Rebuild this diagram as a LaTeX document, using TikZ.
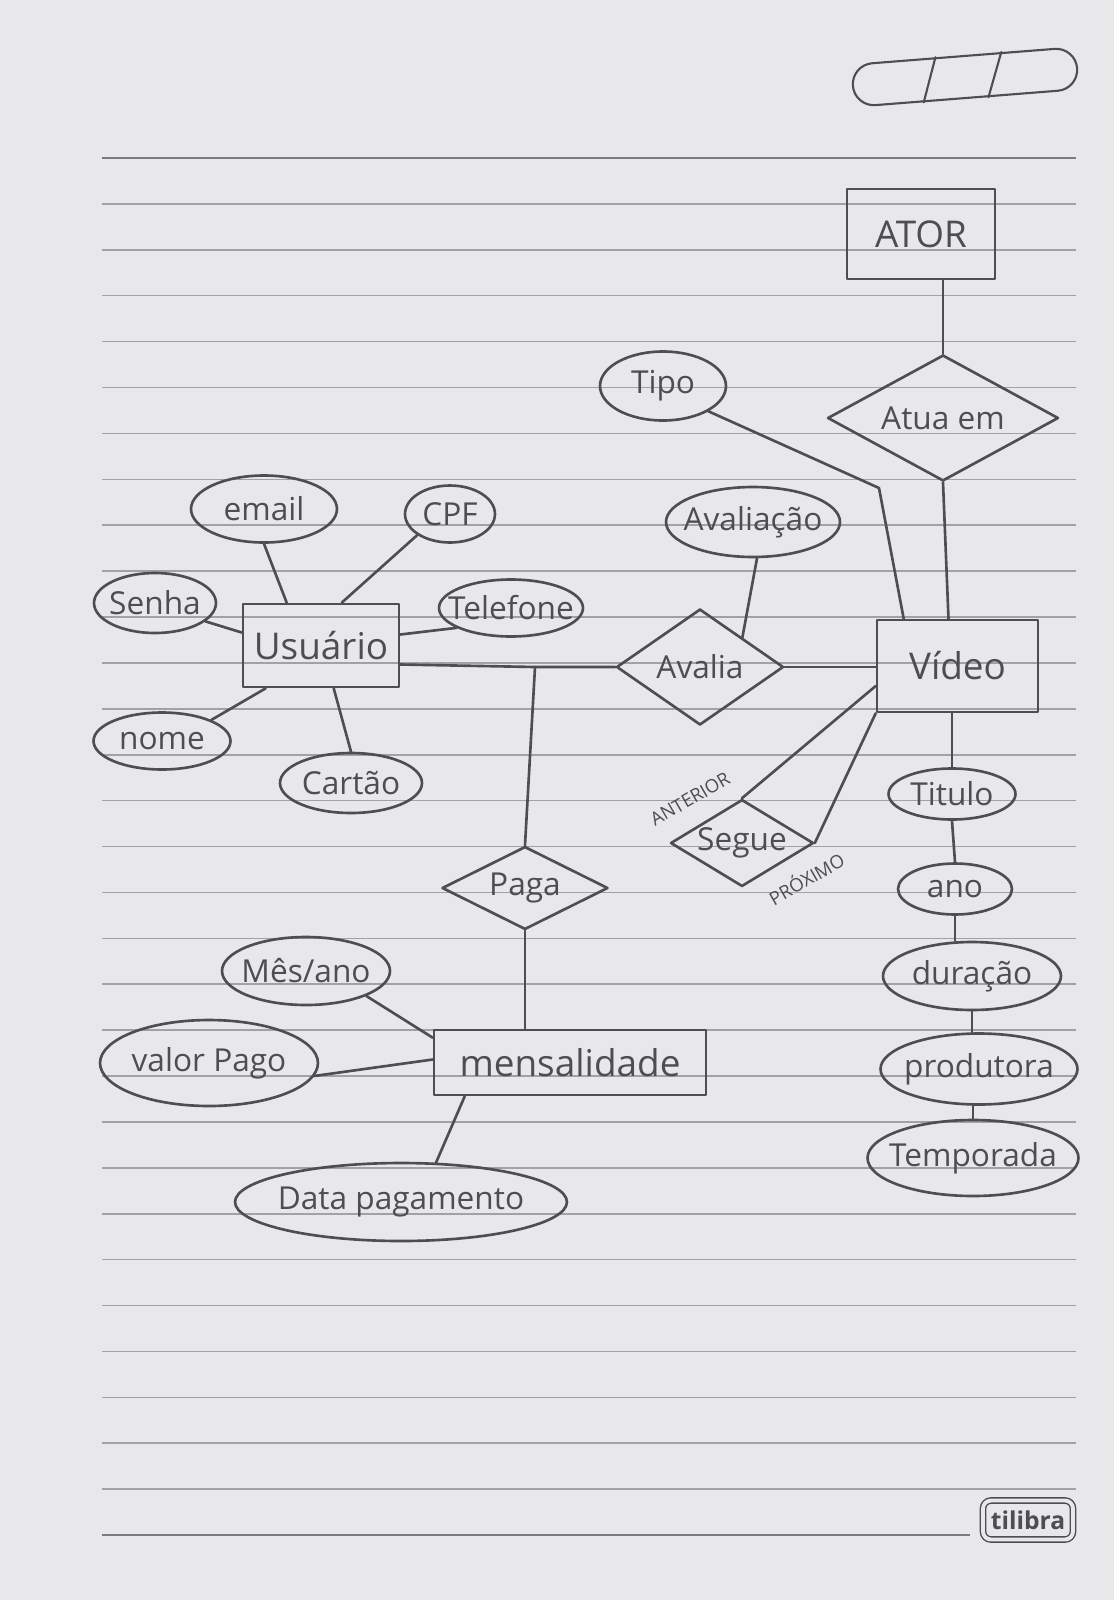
\documentclass[tikz,border=0pt]{standalone}
\usepackage{fontspec}
\setmainfont{Open Sans}
\usetikzlibrary{calc, positioning, shapes.geometric, backgrounds}

\definecolor{pencilgray}{HTML}{4E4E50}
\definecolor{linegray}{HTML}{A2A2A4}
\definecolor{headgray}{HTML}{7A7A7C}
\definecolor{papergray}{HTML}{E8E8EA}

\tikzset{
    pencil/.style={draw=pencilgray, line width=1.5pt, line cap=round, line join=round},
    entity/.style={pencil, rectangle, inner sep=0pt, text=pencilgray, font=\fontsize{21}{24}\selectfont},
    attr/.style={pencil, ellipse, inner xsep=-0.6cm, inner ysep=0pt, text=pencilgray, font=\fontsize{18}{21}\selectfont},
    rel/.style={pencil, diamond, inner xsep=-0.3cm, inner ysep=0pt, text=pencilgray, font=\fontsize{18}{21}\selectfont},
    role/.style={inner sep=0pt, text=pencilgray, font=\fontsize{10.5}{12}\selectfont},
    ruled/.style={draw=linegray, line width=0.9pt},
}

\begin{document}
\begin{tikzpicture}[x=0.02cm, y=-0.02cm]
    \fill[papergray] (0,0) rectangle (1114,1600);
    \useasboundingbox (0,0) rectangle (1114,1600);

    % notebook page
    \foreach \i in {1,...,29}
        \draw[ruled] (102,{158+\i*45.9}) -- (1076,{158+\i*45.9});
    \draw[ruled, draw=headgray] (102,158) -- (1076,158);
    \draw[ruled, draw=headgray] (102,1535) -- (970,1535);

    \node[pencil, line width=1.2pt, rounded corners=0.42cm, minimum width=4.5cm, minimum height=0.84cm, rotate=4.5] (datebox) at (965,77) {};
    \draw[pencil, line width=1.2pt] ($(datebox.south west)!0.31!(datebox.south east)$) -- ($(datebox.north west)!0.377!(datebox.north east)$);
    \draw[pencil, line width=1.2pt] ($(datebox.south west)!0.596!(datebox.south east)$) -- ($(datebox.north west)!0.668!(datebox.north east)$);

    \node[draw=pencilgray, double=papergray, double distance=2.2pt, line width=0.8pt, rounded corners=0.16cm, minimum width=1.8cm, minimum height=0.78cm, text=pencilgray, font=\fontsize{14}{16}\bfseries] (tilibra) at (1028,1520) {tilibra};

    % entities
    \coordinate (atorpos) at (921,234);
    \coordinate (videopos) at (957.5,666);
    \coordinate (usuariopos) at (321,645.5);
    \coordinate (mensalpos) at (570,1062.5);

    \node[entity, minimum width=2.96cm, minimum height=1.8cm] (ator) at (atorpos) {ATOR};
    \node[entity, minimum width=3.22cm, minimum height=1.84cm] (video) at (videopos) {Vídeo};
    \node[entity, minimum width=3.12cm, minimum height=1.66cm] (usuario) at (usuariopos) {Usuário};
    \node[entity, minimum width=5.44cm, minimum height=1.3cm] (mensal) at (mensalpos) {mensalidade};

    % relationships
    \node[rel, aspect=1.83, minimum width=4.62cm, minimum height=2.52cm] (atua) at (943,418) {Atua em};
    \node[rel, aspect=1.44, minimum width=3.34cm, minimum height=2.32cm] (avalia) at (700,667) {Avalia};
    \node[rel, aspect=2, minimum width=3.32cm, minimum height=1.66cm] (paga) at (525,888) {Paga};
    \node[rel, aspect=1.64, minimum width=2.86cm, minimum height=1.74cm] (segue) at (742,843) {Segue};

    \node[role, rotate=30] (anterior) at (690,799) {ANTERIOR};
    \node[role, rotate=30] (proximo) at (806,878) {PRÓXIMO};

    % attributes of Usuário
    \node[attr, minimum width=2.92cm, minimum height=1.34cm] (email) at (264,509) {email};
    \node[attr, minimum width=1.8cm, minimum height=1.14cm] (cpf) at (450,514) {CPF};
    \node[attr, minimum width=2.44cm, minimum height=1.2cm] (senha) at (155,603) {Senha};
    \node[attr, minimum width=2.88cm, minimum height=1.14cm] (telefone) at (511,608) {Telefone};
    \node[attr, minimum width=2.74cm, minimum height=1.14cm] (nome) at (162,741) {nome};
    \node[attr, minimum width=2.84cm, minimum height=1.2cm] (cartao) at (351,783) {Cartão};

    % attributes of mensalidade
    \node[attr, minimum width=3.36cm, minimum height=1.36cm] (mesano) at (306,971) {Mês/ano};
    \node[attr, minimum width=4.36cm, minimum height=1.72cm] (valor) at (209,1063) {valor Pago};
    \node[attr, minimum width=6.64cm, minimum height=1.56cm] (data) at (401,1202) {Data pagamento};

    % attributes of Vídeo
    \node[attr, minimum width=2.52cm, minimum height=1.38cm] (tipo) at (663,386) {Tipo};
    \node[attr, minimum width=3.48cm, minimum height=1.4cm] (avaliacao) at (753,522) {Avaliação};
    \node[attr, minimum width=2.54cm, minimum height=1.02cm] (titulo) at (952,794) {Titulo};
    \node[attr, minimum width=2.28cm, minimum height=1.02cm] (ano) at (955,889) {ano};
    \node[attr, minimum width=3.56cm, minimum height=1.36cm] (duracao) at (972,976) {duração};
    \node[attr, minimum width=3.94cm, minimum height=1.42cm] (produtora) at (979,1069) {produtora};
    \node[attr, minimum width=4.22cm, minimum height=1.52cm] (temporada) at (973,1158) {Temporada};

    % connectors
    \coordinate (pagajoin) at (535,667);
    \coordinate (tipobend) at (879,488);

    \draw[pencil] (atua.north |- ator.south) -- (atua.north);
    \draw[pencil] (atua.south) -- ($(video.north)+(-9,0)$);
    \draw[pencil] (tipo.south east) -- (tipobend) -- ($(video.north west)+(28,0)$);
    \draw[pencil] ($(avaliacao.south)+(4,0)$) -- (avalia.north east);
    \draw[pencil] ($(usuario.east)+(0,19)$) -- (pagajoin) -- (avalia.west);
    \draw[pencil] (pagajoin) -- (paga.north);
    \draw[pencil] (avalia.east) -- (avalia.east -| video.west);
    \draw[pencil] ($(video.west)+(0,20)$) -- (segue.north);
    \draw[pencil] (video.south west) -- (segue.east);

    \draw[pencil] (email.south) -- ($(usuario.north west)+(45,0)$);
    \draw[pencil] (cpf.south west) -- ($(usuario.north west)+(100,0)$);
    \draw[pencil] (senha.-20) -- ($(usuario.west)+(0,-13)$);
    \draw[pencil] (telefone.200) -- ($(usuario.east)+(0,-11)$);
    \draw[pencil] (nome.north east) -- ($(usuario.south west)+(24,0)$);
    \draw[pencil] ($(usuario.south west)+(92,0)$) -- (cartao.north);

    \draw[pencil] (paga.south) -- (paga.south |- mensal.north);
    \draw[pencil] (mesano.south east) -- ($(mensal.north west)+(0,9)$);
    \draw[pencil] (valor.-7) -- ($(mensal.west)+(0,-3)$);
    \draw[pencil] ($(data.north)+(35,1)$) -- ($(mensal.south west)+(32,0)$);

    \draw[pencil] (titulo.north |- video.south) -- (titulo.north);
    \draw[pencil] (titulo.south) -- (ano.north);
    \draw[pencil] (ano.south) -- (ano.south |- duracao.north);
    \draw[pencil] (duracao.south) -- (duracao.south |- produtora.north);
    \draw[pencil] (temporada.north |- produtora.south) -- (temporada.north);

\end{tikzpicture}
\end{document}
